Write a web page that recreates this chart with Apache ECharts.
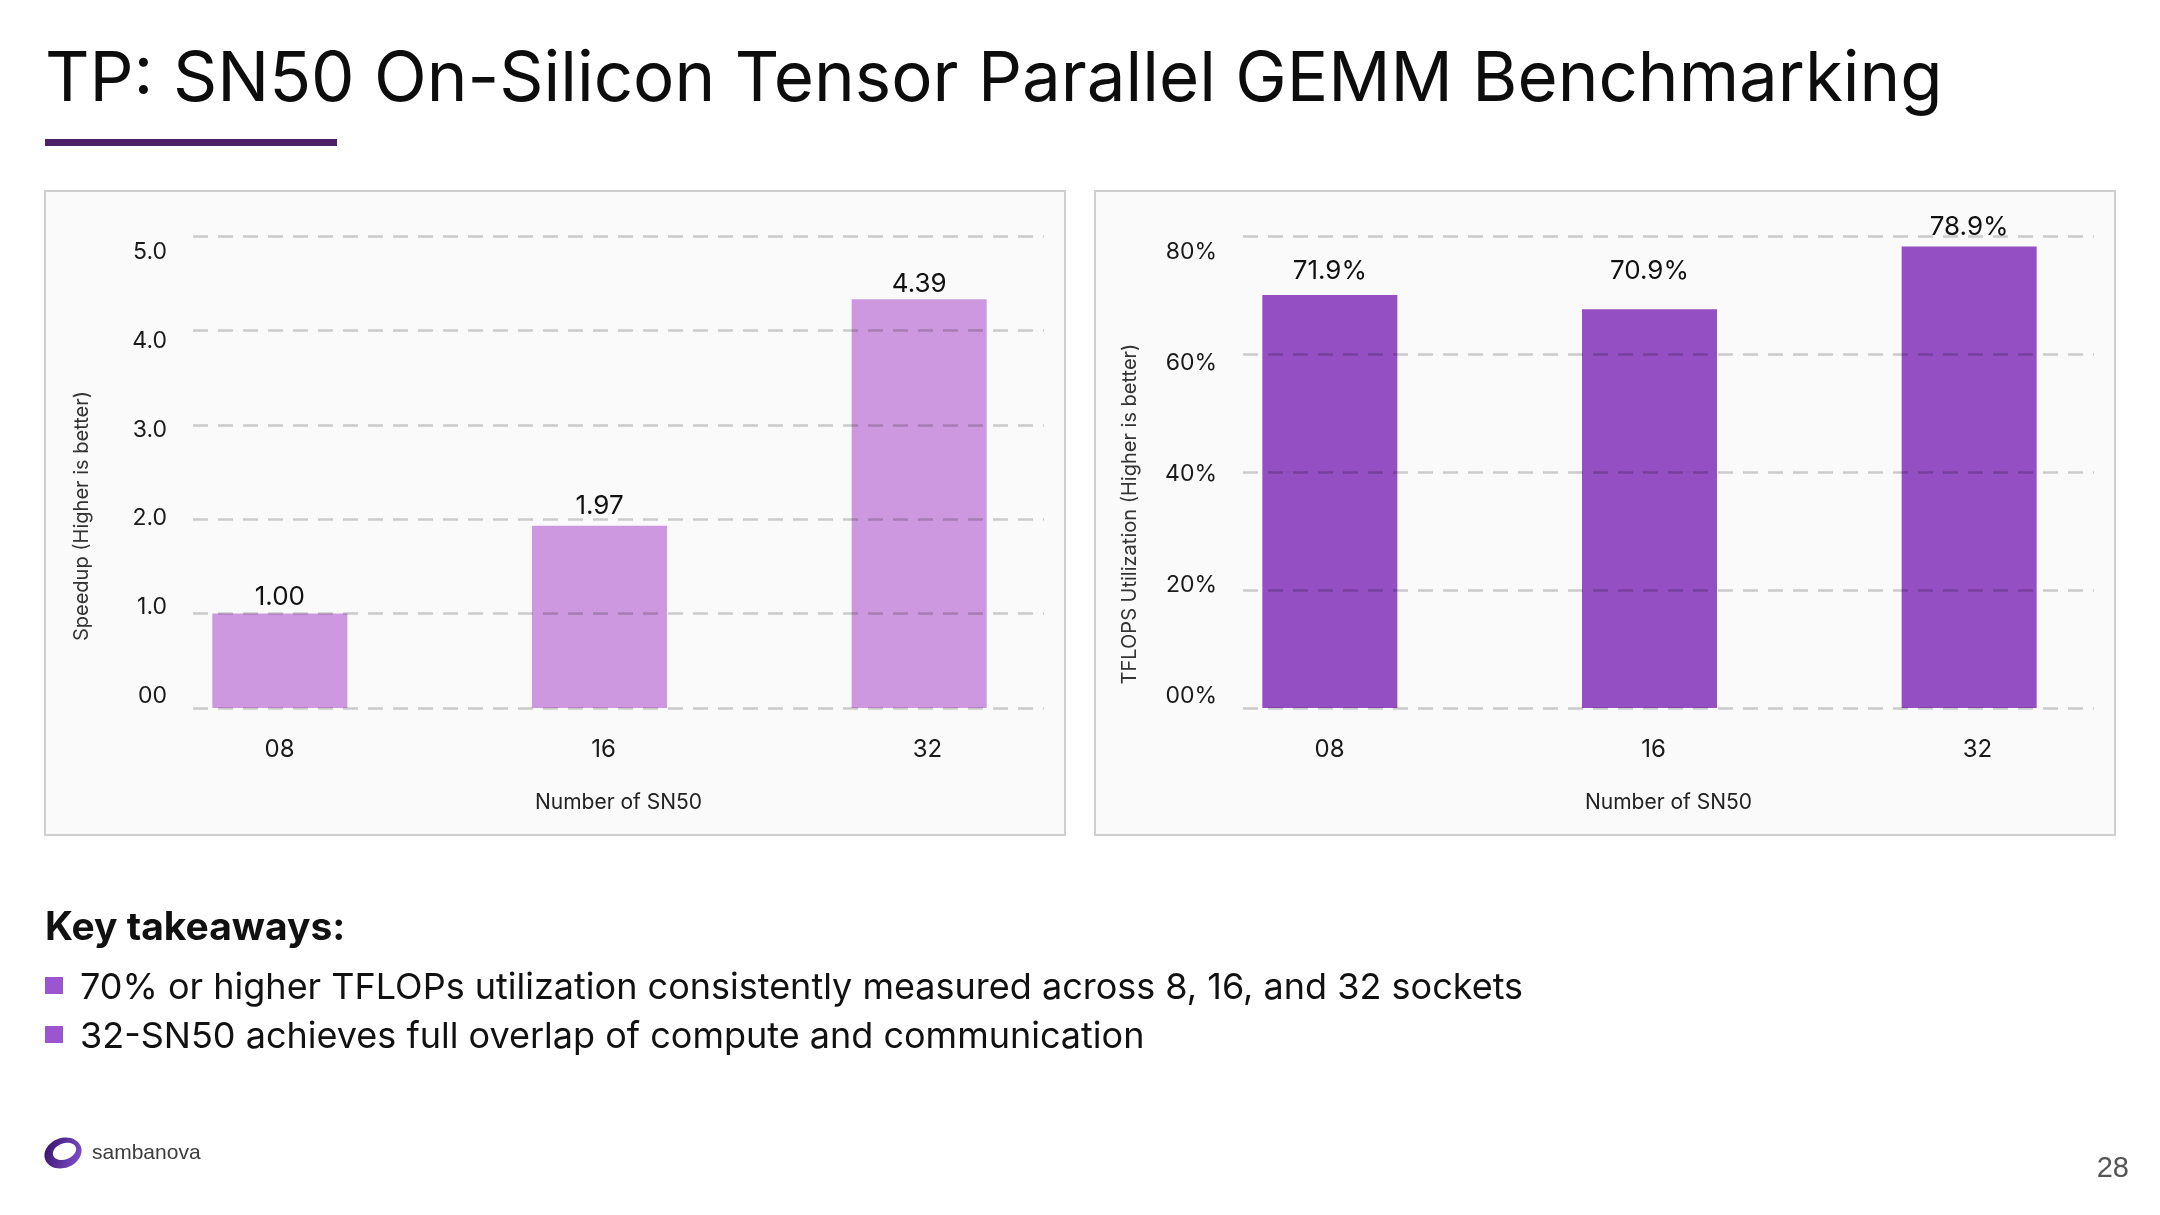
<!DOCTYPE html>
<html>
<head>
<meta charset="utf-8">
<title>TP: SN50 On-Silicon Tensor Parallel GEMM Benchmarking</title>
<script src="https://cdn.jsdelivr.net/npm/echarts@6.0.0/dist/echarts.min.js"></script>
<style>
  html, body { margin: 0; padding: 0; background: #fff; }
  #slide { width: 2160px; height: 1215px; }
</style>
</head>
<body>
<div id="slide"></div>
<script>
'use strict';

// data (bar heights as drawn, labels as printed)
const sockets = ['08', '16', '32'];
const speedup = [1.00, 1.93, 4.33];
const speedupLabels = ['1.00', '1.97', '4.39'];
const utilization = [70.0, 67.6, 78.2];
const utilizationLabels = ['71.9%', '70.9%', '78.9%'];

const speedupTicks = [0, 1, 2, 3, 4, 5];
const speedupTickLabels = ['00', '1.0', '2.0', '3.0', '4.0', '5.0'];
const utilTicks = [0, 20, 40, 60, 80];
const utilTickLabels = ['00%', '20%', '40%', '60%', '80%'];

const takeaways = [
    '70% or higher TFLOPs utilization consistently measured across 8, 16, and 32 sockets',
    '32-SN50 achieves full overlap of compute and communication',
];

const FONT = 'Inter, "Noto Sans", sans-serif';
const GRID_TOP = 236;
const GRID_H = 472;
const LINE_L = 193, LINE_W = 851;
// the tick labels sit on a slightly tighter scale than the gridlines
const LABEL_Y0 = 696;
const LABEL_Y1 = 252;
// category labels are spaced a bit wider than the bars
const CAT_X0 = 279.5, CAT_STEP = 324;

function labelRange(max) {
    const f0 = (GRID_TOP + GRID_H - LABEL_Y0) / GRID_H;
    const f1 = (GRID_TOP + GRID_H - LABEL_Y1) / GRID_H;
    const span = max / (f1 - f0);
    const lo = -f0 * span;
    return [lo, lo + span];
}

const grid = [], xAxis = [], yAxis = [], series = [];

function addPanel(p, opt) {
    const dx = p * 1050;
    const g = grid.length;
    grid.push(
        {left: LINE_L + dx, top: GRID_TOP, width: LINE_W, height: GRID_H},
        {left: 120 + dx, top: GRID_TOP, width: 959, height: GRID_H}
    );
    const catMin = -(CAT_X0 - LINE_L) / CAT_STEP;
    xAxis.push({
        gridIndex: g, type: 'value', min: catMin, max: catMin + LINE_W / CAT_STEP,
        axisLine: {show: false}, axisTick: {show: false}, splitLine: {show: false},
        axisLabel: {
            customValues: sockets.map((s, i) => i), margin: 30,
            fontFamily: FONT, fontSize: 24, color: '#1a1a1a',
            formatter: v => sockets[Math.round(v)],
        },
        name: 'Number of SN50', nameLocation: 'middle', nameGap: 84,
        nameTextStyle: {fontFamily: FONT, fontSize: 21, color: '#222'},
    }, {
        gridIndex: g + 1, type: 'category', data: sockets, show: false,
    });
    const y = yAxis.length;
    const [lo, hi] = labelRange(opt.max);
    yAxis.push({
        gridIndex: g, type: 'value', position: 'left', min: 0, max: opt.max, interval: opt.interval, z: 3,
        axisLine: {show: false}, axisTick: {show: false}, axisLabel: {show: false},
        splitLine: {lineStyle: {color: 'rgba(0,0,0,0.19)', width: 2.5, type: [15, 10]}},
    }, {
        gridIndex: g + 1, type: 'value', position: 'left', min: 0, max: opt.max, show: false,
    }, {
        gridIndex: g, type: 'value', position: 'left', offset: 0, min: lo, max: hi,
        axisLine: {show: false}, axisTick: {show: false}, splitLine: {show: false},
        axisLabel: {
            customValues: opt.ticks, margin: 26, fontFamily: FONT, fontSize: 23, color: '#1a1a1a',
            formatter: v => opt.tickLabels[opt.ticks.indexOf(v)],
        },
    });
    series.push({
        type: 'bar', xAxisIndex: g + 1, yAxisIndex: y + 1, barWidth: 135,
        itemStyle: {color: opt.color},
        data: opt.values.map((v, i) => ({value: v, label: {distance: opt.gaps[i]}})),
        label: {
            show: true, position: 'top', fontFamily: FONT, fontSize: 26, color: '#111',
            formatter: d => opt.labels[d.dataIndex],
        },
    });
}

addPanel(0, {max: 5, interval: 1, ticks: speedupTicks, tickLabels: speedupTickLabels,
    values: speedup, labels: speedupLabels, color: '#CD98E0', gaps: [3, 7, 2]});
addPanel(1, {max: 80, interval: 20, ticks: utilTicks, tickLabels: utilTickLabels,
    values: utilization, labels: utilizationLabels, color: '#944FC3', gaps: [11, 25, 6]});

const text = (x, y, str, style, extra) => Object.assign({
    type: 'text', x, y,
    style: Object.assign({text: str, fontFamily: FONT, fill: '#111', align: 'left', verticalAlign: 'middle'}, style),
}, extra || {});

const graphic = [
    {type: 'rect', z: 0, shape: {x: 45, y: 191, width: 1020, height: 644}, style: {fill: '#FAFAFA', stroke: '#CFCFCF', lineWidth: 2}},
    {type: 'rect', z: 0, shape: {x: 1095, y: 191, width: 1020, height: 644}, style: {fill: '#FAFAFA', stroke: '#CFCFCF', lineWidth: 2}},
    text(45, 80, 'TP: SN50 On-Silicon Tensor Parallel GEMM Benchmarking', {fontSize: 69, fill: '#0d0d0d'}),
    {type: 'rect', shape: {x: 45, y: 139, width: 292, height: 7}, style: {fill: '#4E2068'}},
    text(82, 516, 'Speedup (Higher is better)', {fontSize: 20, fill: '#333', align: 'center'}, {rotation: Math.PI / 2}),
    text(1130, 514, 'TFLOPS Utilization (Higher is better)', {fontSize: 20, fill: '#333', align: 'center'}, {rotation: Math.PI / 2}),
    text(45, 928, 'Key takeaways:', {fontSize: 39, fontWeight: 'bold', fill: '#111'}),
    {type: 'group', x: 63, y: 1153, rotation: 0.35, children: [
        {type: 'ellipse', shape: {cx: 0, cy: 0, rx: 19, ry: 15}, style: {fill: new echarts.graphic.LinearGradient(0, 0, 1, 1, [
            {offset: 0, color: '#2E1160'}, {offset: 1, color: '#8B52DA'}])}},
        {type: 'ellipse', shape: {cx: 2, cy: -1, rx: 12, ry: 8}, style: {fill: '#fff'}},
    ]},
    text(92, 1153, 'sambanova', {fontSize: 21, fill: '#3c3c3c', fontFamily: '"Liberation Sans", Arial, sans-serif'}),
    text(2129, 1169, '28', {fontSize: 29, fill: '#555', align: 'right', fontFamily: '"Liberation Sans", Arial, sans-serif'}),
];
takeaways.forEach((t, i) => {
    const cy = 988 + i * 49;
    graphic.push({type: 'rect', shape: {x: 45, y: cy - 11, width: 18, height: 17}, style: {fill: '#9B55CF'}});
    graphic.push(text(80, cy, t, {fontSize: 36, fill: '#111'}));
});

const chart = echarts.init(document.getElementById('slide'));
chart.setOption({
    animation: false,
    backgroundColor: '#fff',
    grid, xAxis, yAxis, series, graphic,
});
</script>
</body>
</html>
